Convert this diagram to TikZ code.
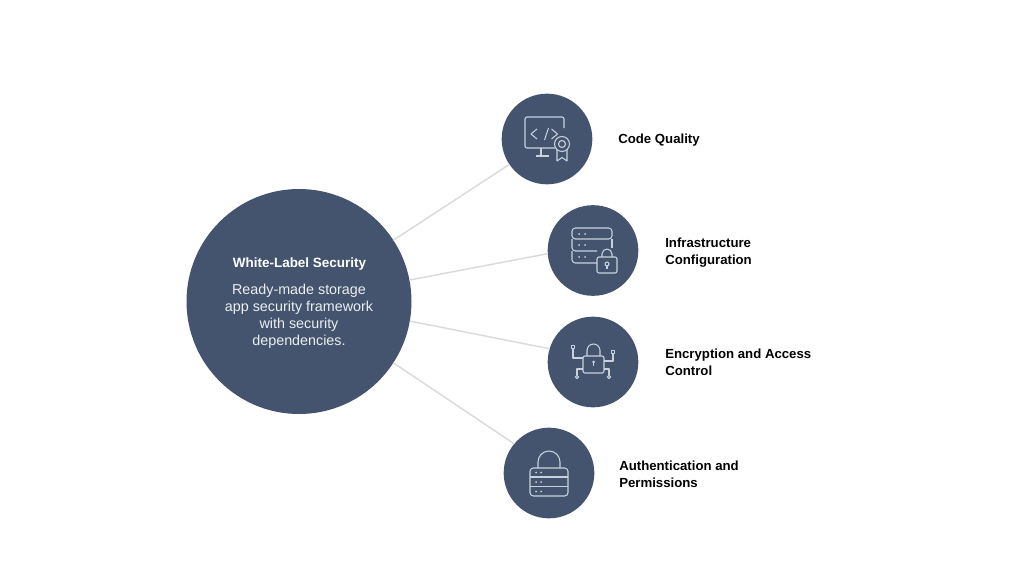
\documentclass[tikz,border=0pt]{standalone}
\usepackage{fontspec}
\setmainfont{Liberation Sans}
\definecolor{slateblue}{HTML}{44546E}
\definecolor{iconline}{HTML}{C9D1DD}
\definecolor{spoke}{HTML}{DADADA}
\tikzset{
    hub/.style={circle,fill=slateblue,inner sep=0pt,outer sep=0pt,minimum size=168.75pt},
    sat/.style={circle,fill=slateblue,inner sep=0pt,outer sep=0pt,minimum size=68pt},
    hubtitle/.style={text=white,align=center,font=\fontsize{10.1}{12.75}\selectfont\bfseries},
    hubtext/.style={text=white!90!slateblue,align=center,font=\fontsize{10.75}{12.75}\selectfont},
    satlabel/.style={text=black,anchor=west,align=left,inner sep=0pt,font=\fontsize{9.9}{12.75}\selectfont\bfseries},
    spokeline/.style={draw=spoke,line width=1.1pt},
    icon/.style={draw=iconline,line width=0.8pt,line join=round},
    icondot/.style={fill=iconline},
}
\begin{document}
\begin{tikzpicture}[x=0.75pt,y=-0.75pt]
    \useasboundingbox (0,0) rectangle (1024,571);

    \node[hub] (main) at (299,301.5) {};
    \node[sat] (code) at (547,139) {};
    \node[sat] (infra) at (593,250.5) {};
    \node[sat] (crypt) at (593,362) {};
    \node[sat] (auth) at (549,473) {};

    \draw[spokeline] (main.33) -- (code.214);
    \draw[spokeline] (main.11.4) -- (infra.184);
    \draw[spokeline] (main.-10.4) -- (crypt.163);
    \draw[spokeline] (main.-33) -- (auth.140);

    \node[hubtitle] (title) at (299.5,264) {White-Label Security};
    \node[hubtext] (desc) at (299,316.5) {Ready-made storage\\app security framework\\with security\\dependencies.};

    \node[satlabel] (codelabel) at (618,140) {Code Quality};
    \node[satlabel] (infralabel) at (665,252.5) {Infrastructure\\Configuration};
    \node[satlabel] (cryptlabel) at (665,362) {Encryption and Access\\Control};
    \node[satlabel] (authlabel) at (619,474) {Authentication and\\Permissions};

    % monitor with badge
    \draw[icon,rounded corners=1.5] (555,148) -- (525,148) -- (525,117) -- (564,117) -- (564,128);
    \draw[icon] (541,148) -- (541,156) (536,156) -- (549,156);
    \draw[icon] (537,129) -- (531,134) -- (537,139);
    \draw[icon] (548.5,128) -- (544.5,140);
    \draw[icon] (551.5,129) -- (557.5,134) -- (551.5,139);
    \draw[icon] (562,144) circle (7.5);
    \draw[icon] (562,144) circle (3.5);
    \draw[icon] (557,150) -- (557,161) -- (562,157.5) -- (567,161) -- (567,150);

    % server stack with lock
    \draw[icon,rounded corners=2.5] (572,228) rectangle (612,239);
    \draw[icon,rounded corners=2.5] (597,251) -- (572,251) -- (572,239);
    \draw[icon] (612,239) -- (612,248);
    \draw[icon,rounded corners=2.5] (597,263) -- (572,263) -- (572,251);
    \foreach \y in {234,245,257} {
        \fill[icondot] (579,\y) circle (1);
        \fill[icondot] (585,\y) circle (1);
    }
    \draw[icon,rounded corners=1.5] (597,257) rectangle (617,273);
    \draw[icon] (602,257) -- (602,254) arc[start angle=180,end angle=360,radius=5] -- (612,257);
    \draw[icon] (607,264) circle (2);
    \draw[icon] (607,266) -- (607,269);

    % lock with circuit lines
    \draw[icon,rounded corners=1.5] (583,356) rectangle (604,373);
    \draw[icon] (587,356) -- (587,350.5) arc[start angle=180,end angle=360,radius=6.5] -- (600,356);
    \fill[icondot] (593.5,362) circle (1.5);
    \draw[icon] (593.5,362) -- (593.5,366);
    \draw[icon] (571.5,345.5) rectangle (574.5,348.5);
    \draw[icon] (573,349) -- (573,358) -- (583,358);
    \draw[icon] (611.5,350.5) rectangle (614.5,353.5);
    \draw[icon] (613,354) -- (613,361) -- (604,361);
    \draw[icon] (577,377) circle (1.7);
    \draw[icon] (577,375) -- (577,369) -- (583,369);
    \draw[icon] (609,377) circle (1.7);
    \draw[icon] (609,375) -- (609,369) -- (604,369);

    % lock made of server rows
    \draw[icon,rounded corners=2.5] (530,468) rectangle (568,496);
    \draw[icon] (530,477) -- (568,477);
    \draw[icon] (530,486.5) -- (568,486.5);
    \draw[icon] (538,468) -- (538,462) arc[start angle=180,end angle=360,radius=11] -- (560,468);
    \foreach \y in {472.5,482,491.5} {
        \fill[icondot] (536,\y) circle (1);
        \fill[icondot] (541,\y) circle (1);
    }
\end{tikzpicture}
\end{document}
